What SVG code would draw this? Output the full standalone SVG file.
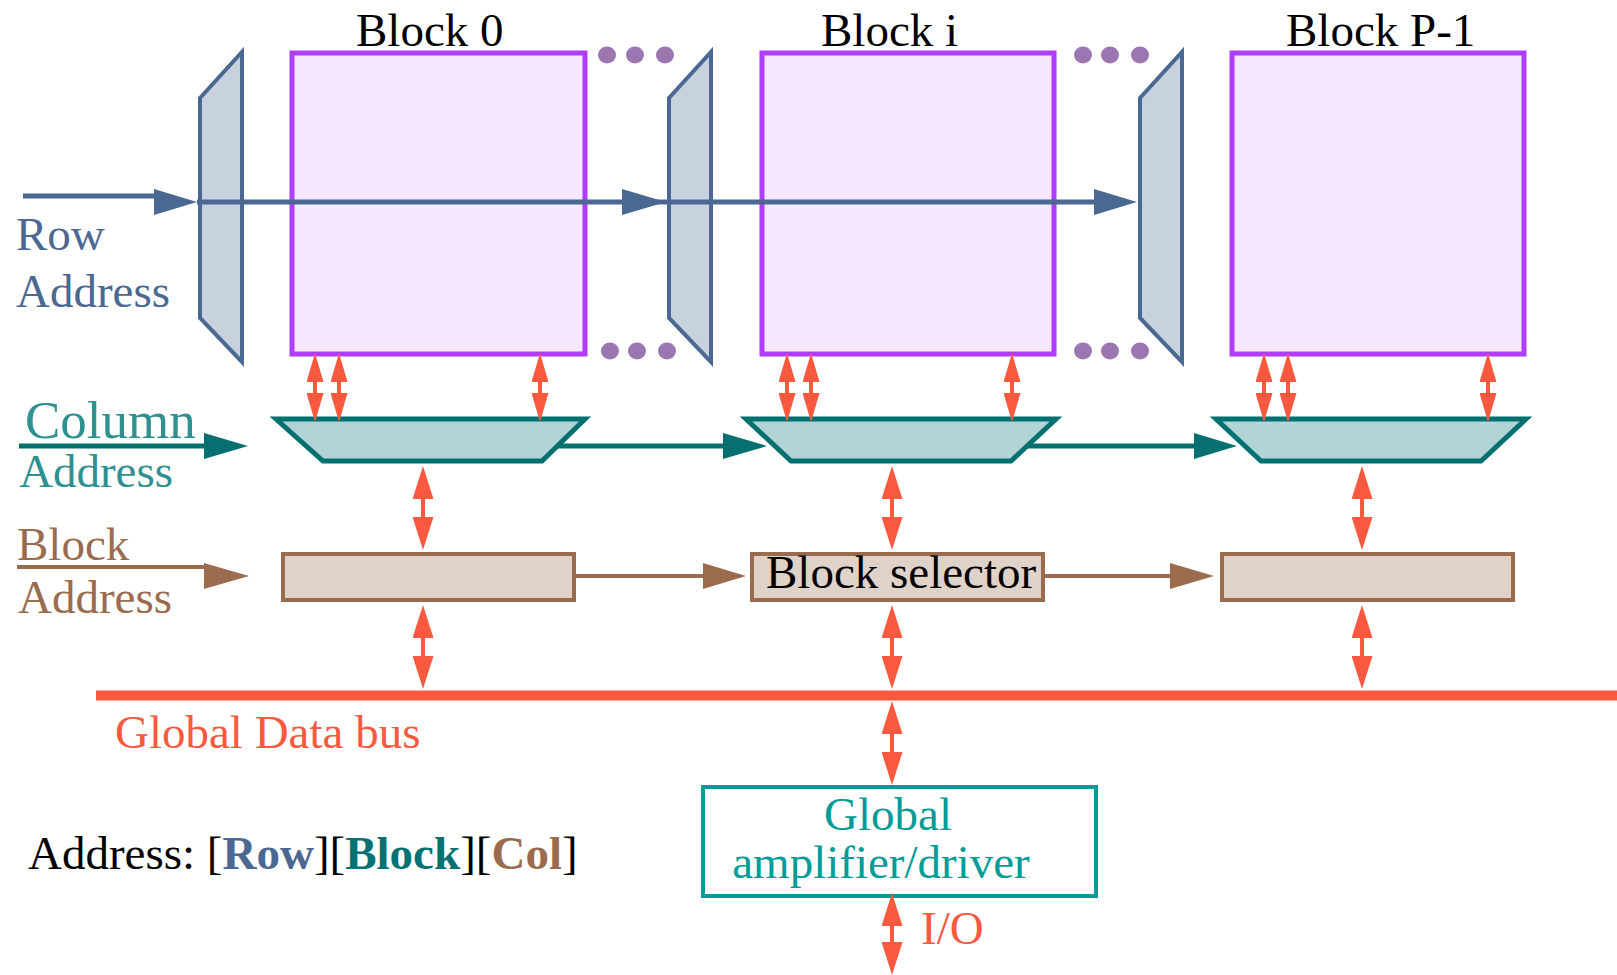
<svg xmlns="http://www.w3.org/2000/svg" width="1617" height="975" viewBox="0 0 1617 975">
  <style>
    text { font-family: "Liberation Serif", "Times New Roman", serif; font-size: 47px; }
    .blk { fill: #F6E9FF; stroke: #B03CFF; stroke-width: 5; }
    .dec { fill: #C8D2DE; stroke: #4A6891; stroke-width: 4; stroke-linejoin: miter; }
    .mux { fill: #B2D4D6; stroke: #037070; stroke-width: 5; }
    .sel { fill: #DFD3C9; stroke: #9A6B4D; stroke-width: 4; }
    .amp { fill: #FFFFFF; stroke: #019C97; stroke-width: 4; }
    .dot { fill: #9B76B1; }
    .rowline { stroke: #4A6891; stroke-width: 5; fill: none; }
    .rowhead { fill: #4A6891; }
    .colline { stroke: #067070; stroke-width: 5; fill: none; }
    .colhead { fill: #067070; }
    .bline { stroke: #9A6B4D; stroke-width: 4; fill: none; }
    .bhead { fill: #9A6B4D; }
    .dbl { stroke: #F95A3F; stroke-width: 4; fill: none; }
    .dbl-s { marker-start: url(#redS); marker-end: url(#redS); }
    .dbl-l { marker-start: url(#redL); marker-end: url(#redL); }
    .bus { stroke: #F95A3F; stroke-width: 10; }
    .red { fill: #F95A3F; }
    .blue { fill: #4A6891; }
    .teal { fill: #2F9090; }
    .brown { fill: #9A6B4D; }
    .ampt { fill: #019C97; }
  </style>
  <defs>
    <!-- small red arrowhead (block to column mux) -->
    <marker id="redS" markerUnits="userSpaceOnUse" viewBox="0 -8.5 29 17" refX="0" refY="0" markerWidth="29" markerHeight="17" orient="auto-start-reverse">
      <path d="M0,-8.5 L29,0 L0,8.5 z" fill="#F95A3F"/>
    </marker>
    <!-- larger red arrowhead -->
    <marker id="redL" markerUnits="userSpaceOnUse" viewBox="0 -10.5 33 21" refX="0" refY="0" markerWidth="33" markerHeight="21" orient="auto-start-reverse">
      <path d="M0,-10.5 L33,0 L0,10.5 z" fill="#F95A3F"/>
    </marker>
  </defs>

  <!-- memory blocks -->
  <g id="block-0">
    <rect class="blk" x="292" y="53" width="293" height="301"/>
    <text x="356" y="46">Block 0</text>
  </g>
  <g id="block-i">
    <rect class="blk" x="762" y="53" width="292" height="301"/>
    <text x="821" y="46">Block i</text>
  </g>
  <g id="block-p1">
    <rect class="blk" x="1232" y="53" width="292" height="301"/>
    <text x="1286" y="46">Block P-1</text>
  </g>

  <!-- ellipsis dots -->
  <g id="dots-0">
    <ellipse class="dot" cx="607" cy="55" rx="9" ry="8.5"/>
    <ellipse class="dot" cx="635" cy="55" rx="9" ry="8.5"/>
    <ellipse class="dot" cx="665" cy="55" rx="9" ry="8.5"/>
    <ellipse class="dot" cx="610" cy="351" rx="9" ry="8.5"/>
    <ellipse class="dot" cx="637" cy="351" rx="9" ry="8.5"/>
    <ellipse class="dot" cx="667" cy="351" rx="9" ry="8.5"/>
  </g>
  <g id="dots-i">
    <ellipse class="dot" cx="1083" cy="55" rx="9" ry="8.5"/>
    <ellipse class="dot" cx="1110" cy="55" rx="9" ry="8.5"/>
    <ellipse class="dot" cx="1140" cy="55" rx="9" ry="8.5"/>
    <ellipse class="dot" cx="1083" cy="351" rx="9" ry="8.5"/>
    <ellipse class="dot" cx="1110" cy="351" rx="9" ry="8.5"/>
    <ellipse class="dot" cx="1140" cy="351" rx="9" ry="8.5"/>
  </g>

  <!-- row decoders -->
  <g id="row-dec-0"><polygon class="dec" points="200,98 242,52 242,362 200,318"/></g>
  <g id="row-dec-i"><polygon class="dec" points="669,98 711,52 711,362 669,318"/></g>
  <g id="row-dec-p1"><polygon class="dec" points="1140,98 1182,52 1182,362 1140,318"/></g>

  <!-- column multiplexers -->
  <g id="col-mux-0"><polygon class="mux" points="276,419 585,419 542,461 323,461"/></g>
  <g id="col-mux-i"><polygon class="mux" points="746,419 1056,419 1011,461 791,461"/></g>
  <g id="col-mux-p1"><polygon class="mux" points="1216,419 1526,419 1481,461 1261,461"/></g>

  <!-- block selectors -->
  <g id="sel-0"><rect class="sel" x="283" y="554" width="291" height="46"/></g>
  <g id="sel-i">
    <rect class="sel" x="752" y="554" width="291" height="46"/>
    <text x="766" y="588">Block selector</text>
  </g>
  <g id="sel-p1"><rect class="sel" x="1222" y="554" width="291" height="46"/></g>

  <!-- global amplifier -->
  <g id="amp">
    <rect class="amp" x="703" y="787" width="393" height="109"/>
    <text class="ampt" x="888" y="830" text-anchor="middle">Global</text>
    <text class="ampt" x="881" y="878" text-anchor="middle">amplifier/driver</text>
  </g>

  <!-- connectors -->
  <g id="connectors">
    <!-- row address path -->
    <line class="rowline" x1="23" y1="196" x2="156" y2="196"/>
    <polygon class="rowhead" points="154,189 197,202 154,215"/>
    <line class="rowline" x1="197" y1="202" x2="1096" y2="202"/>
    <polygon class="rowhead" points="622,189 666,202 622,215"/>
    <polygon class="rowhead" points="1094,189 1137,202 1094,215"/>

    <!-- column address path -->
    <line class="colline" x1="19" y1="446" x2="206" y2="446"/>
    <polygon class="colhead" points="204,433 248,446 204,459"/>
    <line class="colline" x1="557" y1="446" x2="725" y2="446"/>
    <polygon class="colhead" points="723,433 767,446 723,459"/>
    <line class="colline" x1="1026" y1="446" x2="1196" y2="446"/>
    <polygon class="colhead" points="1194,433 1237,446 1194,459"/>

    <!-- block address path -->
    <line class="bline" x1="17" y1="567" x2="206" y2="567"/>
    <polygon class="bhead" points="204,563 249,576 204,589"/>
    <line class="bline" x1="576" y1="576" x2="705" y2="576"/>
    <polygon class="bhead" points="703,563 746,576 703,589"/>
    <line class="bline" x1="1045" y1="576" x2="1172" y2="576"/>
    <polygon class="bhead" points="1170,563 1214,576 1170,589"/>

    <!-- block to column mux data lines -->
    <line class="dbl dbl-s" x1="315" y1="382" x2="315" y2="393"/>
    <line class="dbl dbl-s" x1="339" y1="382" x2="339" y2="393"/>
    <line class="dbl dbl-s" x1="540" y1="382" x2="540" y2="393"/>
    <line class="dbl dbl-s" x1="787" y1="382" x2="787" y2="393"/>
    <line class="dbl dbl-s" x1="811" y1="382" x2="811" y2="393"/>
    <line class="dbl dbl-s" x1="1012" y1="382" x2="1012" y2="393"/>
    <line class="dbl dbl-s" x1="1264" y1="382" x2="1264" y2="393"/>
    <line class="dbl dbl-s" x1="1288" y1="382" x2="1288" y2="393"/>
    <line class="dbl dbl-s" x1="1488" y1="382" x2="1488" y2="393"/>

    <!-- mux to selector -->
    <line class="dbl dbl-l" x1="423" y1="499" x2="423" y2="517"/>
    <line class="dbl dbl-l" x1="892" y1="499" x2="892" y2="517"/>
    <line class="dbl dbl-l" x1="1362" y1="499" x2="1362" y2="517"/>

    <!-- selector to global bus -->
    <line class="dbl dbl-l" x1="423" y1="638" x2="423" y2="656"/>
    <line class="dbl dbl-l" x1="892" y1="638" x2="892" y2="656"/>
    <line class="dbl dbl-l" x1="1362" y1="638" x2="1362" y2="656"/>

    <!-- global data bus -->
    <line class="bus" x1="96" y1="695.5" x2="1617" y2="695.5"/>

    <!-- bus to amplifier, amplifier to I/O -->
    <line class="dbl dbl-l" x1="892" y1="734" x2="892" y2="752"/>
    <line class="dbl dbl-l" x1="892" y1="926" x2="892" y2="942"/>
  </g>

  <!-- labels -->
  <g id="labels">
    <text class="blue" x="16" y="250">Row</text>
    <text class="blue" x="16" y="307">Address</text>
    <text class="teal" x="25" y="438" style="font-size:53px">Column</text>
    <text class="teal" x="19" y="487">Address</text>
    <text class="brown" x="17" y="560">Block</text>
    <text class="brown" x="18" y="613">Address</text>
    <text class="red" x="115" y="748">Global Data bus</text>
    <text class="red" x="921" y="944">I/O</text>
    <text x="28" y="869">Address: [<tspan class="blue" font-weight="bold">Row</tspan>][<tspan fill="#047272" font-weight="bold">Block</tspan>][<tspan class="brown" font-weight="bold">Col</tspan>]</text>
  </g>
</svg>
